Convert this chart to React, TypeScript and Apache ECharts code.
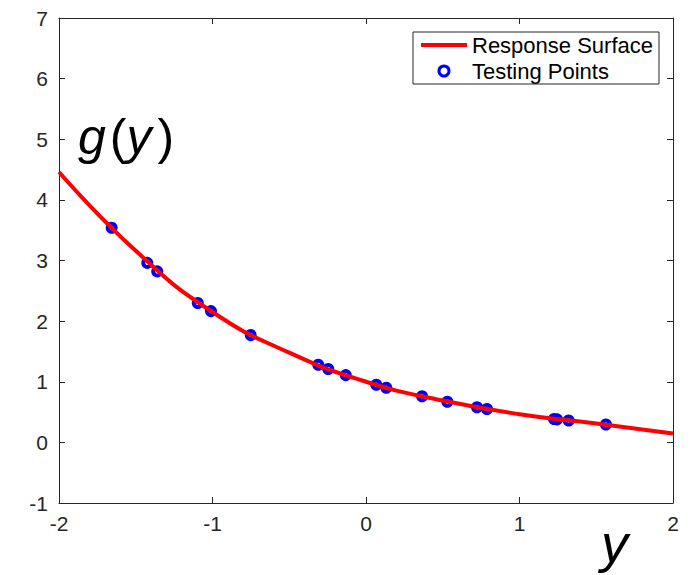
import React, { useEffect, useRef } from "react";
import * as echarts from "echarts";

// Response surface curve
const curveX = [-2, -1.5, -1.0, -0.5, 0, 0.5, 1.0, 1.5, 2];
const curveY = [4.46, 3.16, 2.15, 1.48, 1.0, 0.69, 0.465, 0.31, 0.145];

// Testing points
const pointX = [-1.657, -1.425, -1.36, -1.096, -1.01, -0.751, -0.311, -0.246, -0.132, 0.067, 0.132, 0.365, 0.53, 0.723, 0.788, 1.225, 1.245, 1.32, 1.563];
const pointY = [3.54, 2.96, 2.82, 2.30, 2.165, 1.77, 1.28, 1.21, 1.11, 0.95, 0.90, 0.76, 0.67, 0.58, 0.55, 0.385, 0.38, 0.36, 0.295];

const seriesNames = ["Response Surface", "Testing Points"];
const xTicks = { min: -2, max: 2, interval: 1 };
const yTicks = { min: -1, max: 7, interval: 1 };

const FONT = "'Liberation Sans', Arial, Helvetica, sans-serif";
const AXIS = "#262626";

export default function App() {
  const ref = useRef<HTMLDivElement>(null);
  useEffect(() => {
    if (!ref.current) return;
    const chart = echarts.init(ref.current, null, { renderer: "svg" });
    const curve = curveX.map((x, i) => [x, curveY[i]]);
    const pts = pointX.map((x, i) => [x, pointY[i]]);
    const axisCommon = {
      type: "value" as const,
      splitLine: { show: false },
      axisLine: { show: true, onZero: false, lineStyle: { color: AXIS, width: 1 } },
      axisTick: { show: true, inside: true, length: 6, lineStyle: { color: AXIS, width: 1 } },
    };
    chart.setOption({
      animation: false,
      backgroundColor: "#ffffff",
      grid: { left: 59, right: 17, top: 18, bottom: 72 },
      xAxis: [
        {
          ...axisCommon,
          position: "bottom",
          min: xTicks.min,
          max: xTicks.max,
          interval: xTicks.interval,
          axisLabel: { color: AXIS, fontSize: 21, fontFamily: FONT, margin: 10 },
        },
        {
          ...axisCommon,
          position: "top",
          min: xTicks.min,
          max: xTicks.max,
          interval: xTicks.interval,
          axisLabel: { show: false },
        },
      ],
      yAxis: [
        {
          ...axisCommon,
          position: "left",
          min: yTicks.min,
          max: yTicks.max,
          interval: yTicks.interval,
          axisLabel: { color: AXIS, fontSize: 21, fontFamily: FONT, margin: 11 },
        },
        {
          ...axisCommon,
          position: "right",
          min: yTicks.min,
          max: yTicks.max,
          interval: yTicks.interval,
          axisLabel: { show: false },
        },
      ],
      legend: {
        data: [
          { name: seriesNames[0], itemStyle: { opacity: 0 }, lineStyle: { width: 4, color: "#ff0000" } },
          { name: seriesNames[1], itemStyle: { color: "rgba(0,0,0,0)", borderColor: "#0000ff", borderWidth: 3, opacity: 1 } },
        ],
        orient: "vertical",
        left: 413,
        top: 32,
        itemWidth: 46,
        itemHeight: 10,
        itemGap: 2,
        padding: [1, 6, 1, 6],
        borderColor: AXIS,
        borderWidth: 1,
        backgroundColor: "#ffffff",
        selectedMode: false,
        textStyle: { color: "#000", fontSize: 22, fontFamily: FONT, lineHeight: 24 },
      },
      graphic: [
        {
          type: "text",
          x: 78,
          y: 137,
          style: {
            text: "{i|g}{n|(}{i|y}{n2|)}",
            textVerticalAlign: "middle",
            rich: {
              i: { fontSize: 50, fontStyle: "italic", fontFamily: FONT, fill: "#000" },
              n: { fontSize: 50, fontFamily: FONT, fill: "#000", padding: [0, 0, 0, 4] },
              n2: { fontSize: 50, fontFamily: FONT, fill: "#000", padding: [0, 0, 0, 6] },
            },
          },
        },
        {
          type: "text",
          x: 601,
          y: 543,
          style: {
            text: "y",
            fontSize: 54,
            fontStyle: "italic",
            fontFamily: FONT,
            fill: "#000",
            textVerticalAlign: "middle",
          },
        },
      ],
      series: [
        {
          name: seriesNames[0],
          type: "line",
          data: curve,
          smooth: true,
          symbol: "none",
          lineStyle: { color: "#ff0000", width: 4 },
          itemStyle: { color: "#ff0000" },
          silent: true,
        },
        {
          name: seriesNames[1],
          type: "scatter",
          data: pts,
          symbol: "circle",
          symbolSize: 8,
          itemStyle: { color: "rgba(0,0,0,0)", borderColor: "#0000ff", borderWidth: 4, opacity: 1 },
          silent: true,
        },
      ],
    });
    return () => chart.dispose();
  }, []);
  return (
    <div
      ref={ref}
      style={{ position: "absolute", left: 0, top: 0, width: 690, height: 575 }}
    />
  );
}
